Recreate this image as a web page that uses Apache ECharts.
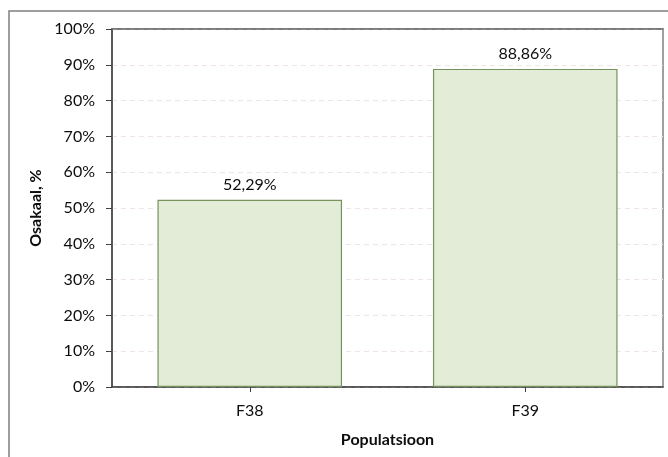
<!DOCTYPE html>
<html>
<head>
<meta charset="utf-8">
<script src="https://cdn.jsdelivr.net/npm/echarts@6/dist/echarts.min.js"></script>
<style>
  html, body { margin: 0; padding: 0; background: #fff; }
  #chart { width: 668px; height: 457px; }
</style>
</head>
<body>
<div id="chart"></div>
<script>
// Share of each population, percent
var categories = ['F38', 'F39'];
var shareValues = [52.29, 88.86];
var yTicks = [0, 10, 20, 30, 40, 50, 60, 70, 80, 90, 100];

var FONT = 'Lato, "Open Sans", sans-serif';
var TEXT = '#0d0d0d';

function fmtPct(v) {
  return v.toFixed(2).replace('.', ',') + '%';
}

var chart = echarts.init(document.getElementById('chart'), null, { renderer: 'canvas' });

chart.setOption({
  animation: false,
  backgroundColor: '#ffffff',
  graphic: [{
    type: 'rect',
    shape: { x: 9, y: 11, width: 700, height: 500 },
    style: { fill: 'none', stroke: '#7f7f7f', lineWidth: 1.5 },
    silent: true,
    z: -10
  }],
  grid: {
    left: 112, right: 5, top: 29, bottom: 70,
    show: true,
    borderColor: '#808080',
    borderWidth: 1.5,
    containLabel: false
  },
  xAxis: [{
    type: 'category',
    data: categories,
    name: 'Populatsioon',
    nameLocation: 'middle',
    nameGap: 45,
    nameTextStyle: { fontFamily: FONT, fontSize: 16, fontWeight: 'bold', color: TEXT },
    axisLine: { show: true, lineStyle: { color: '#404040', width: 1.5 } },
    axisTick: { show: true, alignWithLabel: true, length: 5, lineStyle: { color: '#404040' } },
    axisLabel: { fontFamily: FONT, fontSize: 16, color: TEXT, margin: 16 },
    splitLine: { show: false }
  }, {
    // top edge of the plot frame, drawn above the dashed gridlines
    type: 'category',
    position: 'top',
    data: categories,
    axisLine: { show: true, lineStyle: { color: '#6e6e6e', width: 1.5 } },
    axisTick: { show: false },
    axisLabel: { show: false },
    splitLine: { show: false }
  }],
  yAxis: {
    type: 'value',
    min: yTicks[0],
    max: yTicks[yTicks.length - 1],
    interval: yTicks[1] - yTicks[0],
    name: 'Osakaal, %',
    nameLocation: 'middle',
    nameGap: 66,
    nameRotate: 90,
    nameTextStyle: { fontFamily: FONT, fontSize: 16, fontWeight: 'bold', color: TEXT },
    axisLine: { show: true, lineStyle: { color: '#404040', width: 1.5 } },
    axisTick: { show: true, inside: false, length: 6, lineStyle: { color: '#404040' } },
    axisLabel: { fontFamily: FONT, fontSize: 16, color: TEXT, margin: 17,
                 formatter: function (v) { return v + '%'; } },
    splitLine: { show: true, lineStyle: { color: '#f0e4e4', type: [5, 4], width: 1 } }
  },
  series: [{
    type: 'bar',
    xAxisIndex: 0,
    data: shareValues,
    barWidth: '67%',
    itemStyle: { color: '#e2ecd7', borderColor: '#76935e', borderWidth: 1.2 },
    label: {
      show: true,
      position: 'top',
      distance: 7,
      fontFamily: FONT,
      fontSize: 16,
      color: TEXT,
      formatter: function (p) { return fmtPct(p.value); }
    }
  }]
});
</script>
</body>
</html>
